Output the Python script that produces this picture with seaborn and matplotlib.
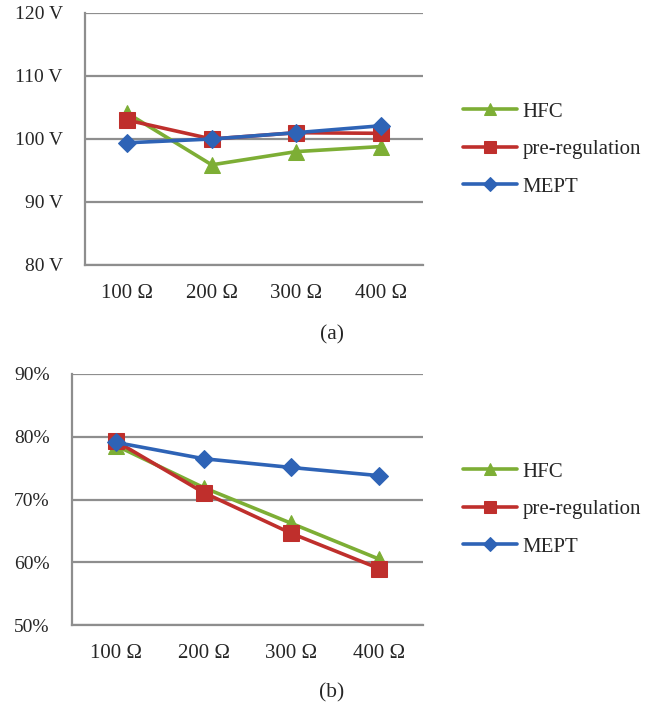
import matplotlib
matplotlib.use("Agg")
import matplotlib.pyplot as plt
import seaborn as sns
import pandas as pd

# ---- data ----
categories = ["100 Ω", "200 Ω", "300 Ω", "400 Ω"]
series_names = ["HFC", "pre-regulation", "MEPT"]

voltage_hfc = [104.1, 95.9, 98.0, 98.8]
voltage_pre = [103.0, 100.0, 101.0, 100.9]
voltage_mept = [99.4, 100.0, 101.0, 102.1]

eff_hfc = [78.6, 71.9, 66.2, 60.5]
eff_pre = [79.3, 71.1, 64.6, 59.0]
eff_mept = [79.1, 76.5, 75.1, 73.8]

volt_ticks = [80, 90, 100, 110, 120]
volt_ticklabels = ["80 V", "90 V", "100 V", "110 V", "120 V"]
eff_ticks = [50, 60, 70, 80, 90]
eff_ticklabels = ["50%", "60%", "70%", "80%", "90%"]

panel_labels = ["(a)", "(b)"]

# ---- styling ----
sns.set_style("white")
plt.rcParams["font.family"] = ["Liberation Serif", "DejaVu Serif"]

palette = {"HFC": "#7DAE35", "pre-regulation": "#BF2F2C", "MEPT": "#2E63B6"}
markers = {"HFC": "^", "pre-regulation": "s", "MEPT": "D"}
msizes = {"HFC": 11, "pre-regulation": 11, "MEPT": 9}
grid_color = "#8E8E8E"


def long_frame(values_list):
    rows = []
    for name, vals in zip(series_names, values_list):
        for c, v in zip(categories, vals):
            rows.append({"cat": c, "val": v, "series": name})
    return pd.DataFrame(rows)


fig = plt.figure(figsize=(6.65, 7.11), dpi=100)
ax1 = fig.add_axes([85 / 665, 1 - 265 / 711, 338 / 665, 252 / 711])
ax2 = fig.add_axes([72 / 665, 1 - 625 / 711, 351 / 665, 251 / 711])


def draw(ax, df, yticks, yticklabels, legend_top):
    ax.set_axisbelow(True)
    for name in series_names:
        sub = df[df["series"] == name]
        sns.lineplot(data=sub, x="cat", y="val", ax=ax, color=palette[name],
                     marker=markers[name], markersize=msizes[name],
                     markeredgecolor=palette[name], linewidth=2.6,
                     label=name, sort=False, zorder=3)
    ax.set_xlim(-0.5, 3.5)
    ax.set_ylim(yticks[0], yticks[-1])
    ax.set_yticks(yticks)
    ax.set_yticklabels(yticklabels, fontsize=14)
    ax.set_xticks(range(len(categories)))
    ax.set_xticklabels(categories, fontsize=15)
    ax.set_xticks([len(categories) - 0.5], minor=True)
    ax.set_xlabel("")
    ax.set_ylabel("")
    ax.grid(axis="y", which="major", color=grid_color, linewidth=1.6)
    for s in ["top", "right"]:
        ax.spines[s].set_visible(False)
    for s in ["left", "bottom"]:
        ax.spines[s].set_color(grid_color)
        ax.spines[s].set_linewidth(1.6)
    ax.tick_params(axis="y", direction="out", length=6, width=1.4,
                   color=grid_color, pad=10)
    ax.tick_params(axis="x", which="both", direction="in", length=4,
                   width=1.4, color=grid_color, pad=14)
    if ax.legend_:
        ax.legend_.remove()
    handles, labels = ax.get_legend_handles_labels()
    fig.legend(handles, labels, loc="upper left",
               bbox_to_anchor=(463 / 665, legend_top), frameon=False,
               fontsize=15, handlelength=2.6, handletextpad=0.25,
               labelspacing=0.86, borderpad=0, borderaxespad=0,
               markerscale=0.75)


draw(ax1, long_frame([voltage_hfc, voltage_pre, voltage_mept]),
     volt_ticks, volt_ticklabels, 1 - 102 / 711)
draw(ax2, long_frame([eff_hfc, eff_pre, eff_mept]),
     eff_ticks, eff_ticklabels, 1 - 462 / 711)

fig.text(332 / 665, 1 - 335 / 711, panel_labels[0], ha="center", va="center",
         fontsize=15.5)
fig.text(332 / 665, 1 - 693 / 711, panel_labels[1], ha="center", va="center",
         fontsize=15.5)

fig.savefig("out.png", dpi=100)
